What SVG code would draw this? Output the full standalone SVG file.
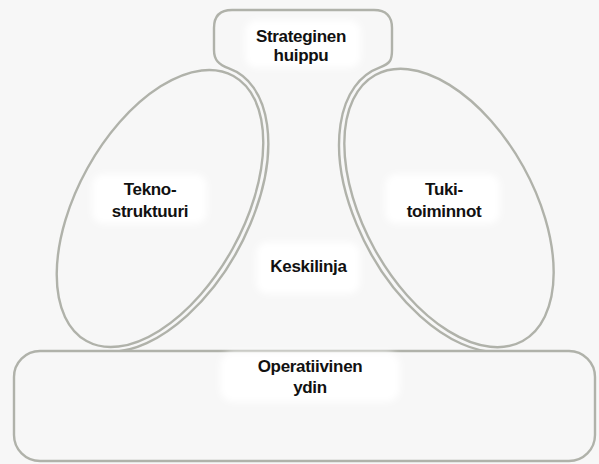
<svg xmlns="http://www.w3.org/2000/svg" width="599" height="464" viewBox="0 0 599 464">
  <defs>
    <filter id="soft" x="-20%" y="-30%" width="140%" height="160%">
      <feGaussianBlur stdDeviation="3"/>
    </filter>
  </defs>
  <style>
    .outline { fill: #f7f7f7; stroke: #b0b2aa; stroke-width: 2.4; }
    .patch { fill: #ffffff; filter: url(#soft); }
    .label { font-family: "Liberation Sans", Arial, sans-serif; font-weight: bold; font-size: 17px; letter-spacing: -0.3px; fill: #111111; text-anchor: middle; }
  </style>
  <rect x="0" y="0" width="599" height="464" fill="#f7f7f7"/>

  <g id="strateginen-huippu">
    <path class="outline" d="M 214 50 C 214 60 218.6 64.6 228.9 68.4 A 88 156.5 29 0 1 110.4 351.9 L 110.4 400 L 498.3 400 L 498.3 352.2 A 90 157 -29 0 1 380 67.4 C 390.3 63.6 392 60 392 50 L 392 28 Q 392 10 374 10 L 232 10 Q 214 10 214 28 Z"/>
    <rect class="patch" x="245" y="20" width="116" height="48" rx="12"/>
    <text class="label" x="301" y="41.5">Strateginen</text>
    <text class="label" x="301" y="61">huippu</text>
  </g>

  <g id="teknostruktuuri">
    <ellipse class="outline" cx="160" cy="208.5" rx="83" ry="151.5" transform="rotate(29 160 208.5)"/>
    <rect class="patch" x="92" y="174" width="115" height="50" rx="12"/>
    <text class="label" x="150" y="195">Tekno-</text>
    <text class="label" x="150" y="216.5">struktuuri</text>
  </g>

  <g id="tukitoiminnot">
    <ellipse class="outline" cx="449" cy="208" rx="85" ry="152" transform="rotate(-29 449 208)"/>
    <rect class="patch" x="385" y="174" width="115" height="50" rx="12"/>
    <text class="label" x="444" y="195">Tuki-</text>
    <text class="label" x="444" y="216.5">toiminnot</text>
  </g>

  <g id="keskilinja">
    <rect class="patch" x="256" y="242" width="104" height="52" rx="12"/>
    <text class="label" x="308.5" y="271.5">Keskilinja</text>
  </g>

  <g id="operatiivinen-ydin">
    <rect class="outline" x="14" y="351" width="581" height="110" rx="26"/>
    <rect class="patch" x="220" y="352" width="180" height="50" rx="14"/>
    <text class="label" x="310" y="371.5">Operatiivinen</text>
    <text class="label" x="310" y="393">ydin</text>
  </g>

  <g id="connectors"/>
</svg>
